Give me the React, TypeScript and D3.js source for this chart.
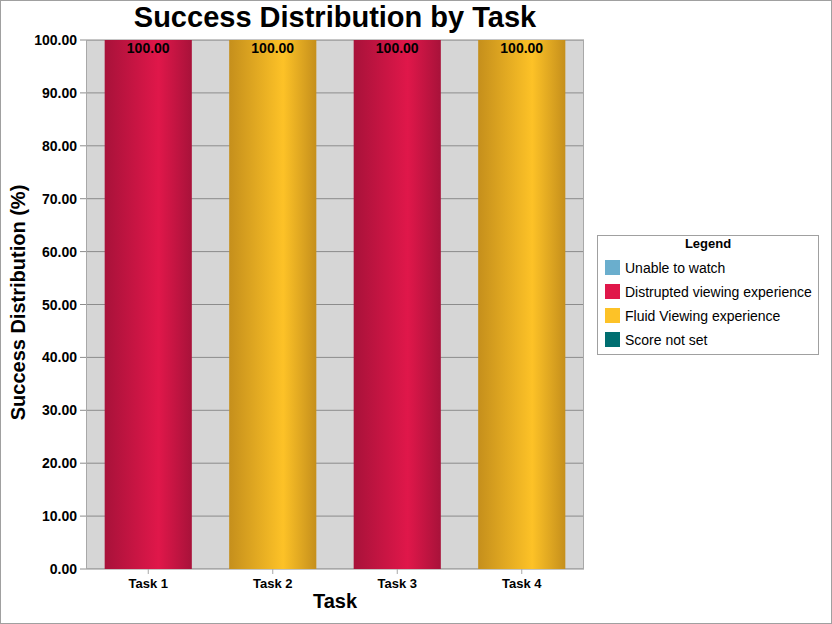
import React, { useEffect, useRef } from 'react'
import * as d3 from 'd3'

const tasks = ['Task 1', 'Task 2', 'Task 3', 'Task 4']
const seriesNames = ['Unable to watch', 'Distrupted viewing experience', 'Fluid Viewing experience', 'Score not set']
const unableToWatch = [0, 0, 0, 0]
const distrupted = [100, 0, 100, 0]
const fluid = [0, 100, 0, 100]
const scoreNotSet = [0, 0, 0, 0]
const seriesColors = ['#6aaecd', '#e0174a', '#fdc227', '#006e70']
const seriesDark = ['#4f8aa6', '#a8123a', '#c58f1c', '#004c4e']
const yTicks = [0, 10, 20, 30, 40, 50, 60, 70, 80, 90, 100]

const W = 832
const H = 624
const FONT = '"Liberation Sans", Arial, sans-serif'

const App = () => {
    const ref = useRef<SVGSVGElement>(null)

    useEffect(() => {
        const svg = d3.select(ref.current)
        svg.selectAll('*').remove()

        const m = { left: 86, right: 584, top: 40, bottom: 569 }

        const rows = tasks.map((t, i) => ({
            task: t,
            'Unable to watch': unableToWatch[i],
            'Distrupted viewing experience': distrupted[i],
            'Fluid Viewing experience': fluid[i],
            'Score not set': scoreNotSet[i],
        }))
        const stacked = d3.stack<any>().keys(seriesNames)(rows)

        const x = d3.scaleBand().domain(tasks).range([m.left, m.right]).paddingInner(0.3).paddingOuter(0.15)
        const y = d3.scaleLinear().domain([0, 100]).range([m.bottom, m.top])

        const defs = svg.append('defs')
        seriesNames.forEach((s, i) => {
            const g = defs.append('linearGradient').attr('id', 'grad' + i)
                .attr('x1', '0%').attr('x2', '100%').attr('y1', '0%').attr('y2', '0%')
            g.append('stop').attr('offset', '0%').attr('stop-color', seriesDark[i])
            g.append('stop').attr('offset', '62%').attr('stop-color', seriesColors[i])
            g.append('stop').attr('offset', '100%').attr('stop-color', seriesDark[i])
        })

        svg.append('rect')
            .attr('x', 0.5).attr('y', 0.5).attr('width', W - 1).attr('height', H - 1)
            .attr('fill', '#fff').attr('stroke', '#a0a0a0')

        // plot background
        svg.append('rect')
            .attr('x', m.left).attr('y', m.top)
            .attr('width', m.right - m.left).attr('height', m.bottom - m.top)
            .attr('fill', '#d6d6d6')

        // gridlines
        svg.append('g').selectAll('line')
            .data(yTicks)
            .join('line')
            .attr('x1', m.left - 6).attr('x2', m.right)
            .attr('y1', d => y(d)).attr('y2', d => y(d))
            .attr('stroke', '#8c8c8c').attr('stroke-width', 1)

        // frame
        svg.append('rect')
            .attr('x', m.left + 0.5).attr('y', m.top + 0.5)
            .attr('width', m.right - m.left - 1).attr('height', m.bottom - m.top - 1)
            .attr('fill', 'none').attr('stroke', '#a8a8a8')

        // bars
        stacked.forEach((layer, i) => {
            svg.append('g').selectAll('rect')
                .data(layer)
                .join('rect')
                .attr('x', (d: any) => x(d.data.task)!)
                .attr('width', x.bandwidth())
                .attr('y', (d: any) => y(d[1]))
                .attr('height', (d: any) => y(d[0]) - y(d[1]))
                .attr('fill', `url(#grad${i})`)
                .attr('stroke', (d: any) => d[1] - d[0] === 0 ? '#8a8090' : 'none')
                .attr('stroke-width', 1.5)
        })

        // value labels
        const totals = tasks.map((t, i) => ({ task: t, v: distrupted[i] + fluid[i] + unableToWatch[i] + scoreNotSet[i] }))
        svg.append('g').selectAll('text')
            .data(totals)
            .join('text')
            .attr('x', d => x(d.task)! + x.bandwidth() / 2)
            .attr('y', d => y(d.v) + 13)
            .attr('text-anchor', 'middle')
            .attr('font-family', FONT).attr('font-size', 14).attr('font-weight', 'bold')
            .attr('fill', '#000')
            .text(d => d.v.toFixed(2))

        // y tick labels
        svg.append('g').selectAll('text')
            .data(yTicks)
            .join('text')
            .attr('x', m.left - 9)
            .attr('y', d => y(d) + 5)
            .attr('text-anchor', 'end')
            .attr('font-family', FONT).attr('font-size', 14).attr('font-weight', 'bold')
            .text(d => d.toFixed(2))

        // x ticks
        svg.append('g').selectAll('line')
            .data(tasks)
            .join('line')
            .attr('x1', d => x(d)! + x.bandwidth() / 2).attr('x2', d => x(d)! + x.bandwidth() / 2)
            .attr('y1', m.bottom).attr('y2', m.bottom + 5)
            .attr('stroke', '#a8a8a8')
        svg.append('g').selectAll('text')
            .data(tasks)
            .join('text')
            .attr('x', d => x(d)! + x.bandwidth() / 2)
            .attr('y', m.bottom + 19)
            .attr('text-anchor', 'middle')
            .attr('font-family', FONT).attr('font-size', 13).attr('font-weight', 'bold')
            .text(d => d)

        // titles
        svg.append('text')
            .attr('x', (m.left + m.right) / 2).attr('y', 27)
            .attr('text-anchor', 'middle')
            .attr('font-family', FONT).attr('font-size', 29).attr('font-weight', 'bold')
            .text('Success Distribution by Task')
        svg.append('text')
            .attr('x', (m.left + m.right) / 2).attr('y', 608)
            .attr('text-anchor', 'middle')
            .attr('font-family', FONT).attr('font-size', 20).attr('font-weight', 'bold')
            .text('Task')
        svg.append('text')
            .attr('transform', `translate(25, ${(183 + 422) / 2}) rotate(-90)`)
            .attr('text-anchor', 'middle')
            .attr('font-family', FONT).attr('font-size', 20).attr('font-weight', 'bold')
            .text('Success Distribution (%)')

        // legend
        const lg = svg.append('g').attr('transform', 'translate(597, 235)')
        lg.append('rect')
            .attr('x', 0.5).attr('y', 0.5).attr('width', 221).attr('height', 119)
            .attr('fill', '#fff').attr('stroke', '#a0a0a0')
        lg.append('text')
            .attr('x', 111).attr('y', 13)
            .attr('text-anchor', 'middle')
            .attr('font-family', FONT).attr('font-size', 13).attr('font-weight', 'bold')
            .text('Legend')
        const items = lg.selectAll('g.item')
            .data(seriesNames)
            .join('g')
            .attr('class', 'item')
            .attr('transform', (d, i) => `translate(8, ${25 + i * 24})`)
        items.append('rect')
            .attr('width', 15).attr('height', 15)
            .attr('fill', (d, i) => seriesColors[i])
        items.append('text')
            .attr('x', 20).attr('y', 12.5)
            .attr('font-family', FONT).attr('font-size', 14)
            .text(d => d)
    }, [])

    return (
        <div style={{ position: 'fixed', left: 0, top: 0, width: W, height: H }}>
            <svg ref={ref} width={W} height={H} viewBox={`0 0 ${W} ${H}`} style={{ display: 'block' }} />
        </div>
    )
}

export default App
